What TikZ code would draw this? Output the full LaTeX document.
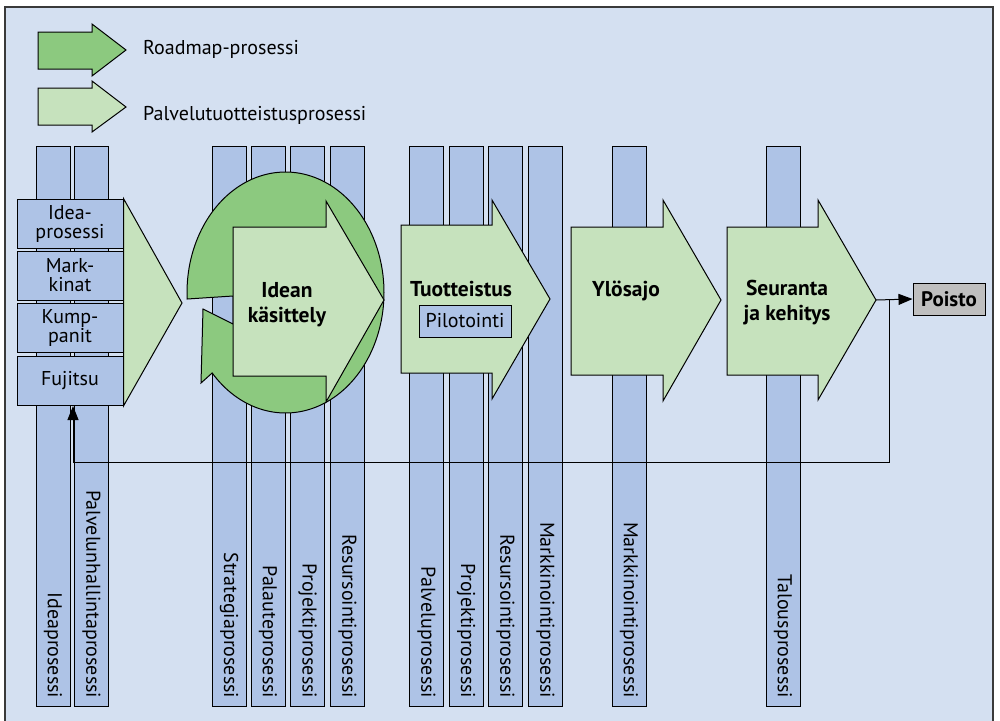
\documentclass[tikz,border=0pt]{standalone}
\usepackage{fontspec}
\setmainfont{PT Sans}
\usetikzlibrary{arrows.meta}
\definecolor{panel}{HTML}{D4E0F1}
\definecolor{barblue}{HTML}{AEC3E6}
\definecolor{lightgreen}{HTML}{C6E2BD}
\definecolor{darkgreen}{HTML}{8CC97F}
\definecolor{poistogray}{HTML}{BFBFBF}
\definecolor{framegray}{HTML}{3A3A3A}
\begin{document}
\begin{tikzpicture}[x=1pt,y=-1pt,line join=miter,
  outline/.style={draw=black,line width=1pt},
  lane/.style={outline,fill=barblue,minimum width=34pt,minimum height=560pt,inner sep=0pt},
  lanelabel/.style={rotate=-90,anchor=east,inner sep=0pt,font=\fontsize{20}{22}\selectfont},
  srcbox/.style={outline,fill=barblue,minimum width=106pt,minimum height=49pt,inner sep=0pt,align=center,font=\fontsize{20}{19}\selectfont},
  steptext/.style={align=center,inner sep=0pt,anchor=base,font=\fontsize{21.5}{25}\selectfont\bfseries},
  legendtext/.style={inner sep=0pt,font=\fontsize{20}{22}\selectfont},
  tip/.style={-{Triangle[length=14pt,width=11pt]}}]
\useasboundingbox (0,0) rectangle (1000,720);
\clip (0,0) rectangle (1000,720);
% panel
\draw[draw=framegray,line width=2pt,fill=panel] (5,7) rectangle (993,740);
% legend
\draw[outline,fill=darkgreen] (38,32) -- (92,32) -- (92,24) -- (126,50) -- (92,76) -- (92,69) -- (38,69) -- cycle;
\node[legendtext,anchor=base west] (roadmap) at (143,54) {Roadmap-prosessi};
\draw[outline,fill=lightgreen] (38,88) -- (92,88) -- (92,81) -- (126,107) -- (92,132) -- (92,125) -- (38,125) -- cycle;
\node[legendtext,anchor=base west] (palvelu) at (143,120) {Palvelutuotteistusprosessi};
% process lanes
\foreach \n/\x/\t in {1/53/Ideaprosessi,2/91.5/Palvelunhallintaprosessi,
  3/229/Strategiaprosessi,4/268/Palauteprosessi,5/307.5/Projektiprosessi,6/347.5/Resursointiprosessi,
  7/426.5/Palveluprosessi,8/466/Projektiprosessi,9/505.5/Resursointiprosessi,10/545.5/Markkinointiprosessi,
  11/629/Markkinointiprosessi,12/783/Talousprosessi}{
  \node[lane] (lane\n) at (\x,426) {};
  \node[lanelabel] (lanetext\n) at ([yshift=8pt]lane\n.south) {\t};
}
% feedback loop points
\coordinate (split) at (889,300);
\coordinate (loopcorner) at (73,462);
% idea sources
\node[srcbox] (idea) at (70,223.5) {Idea-\\prosessi};
\node[srcbox] (markkinat) at (70,275.5) {Mark-\\kinat};
\node[srcbox] (kumppanit) at (70,328) {Kump-\\panit};
\node[srcbox] (fujitsu) at (70,381) {Fujitsu};
\draw[outline,fill=lightgreen] (idea.north east) -- (182,303) -- (fujitsu.south east) -- cycle;
% roadmap cycle around the first step
\draw[outline,fill=darkgreen] plot[domain=176.9:498.1,samples=150] ({285.5+98.5*cos(\x)},{292.5+120.5*sin(\x)})
  -- (201,383) -- (203,309) -- (233,324) -- (233,296) -- cycle;
% process steps
\draw[outline,fill=lightgreen] (233,227) -- (326,227) -- (326,201) -- (384,300) -- (326,402) -- (326,376) -- (233,376) -- cycle;
\node[steptext] (idean) at (287,322) {Idean\\käsittely};
\draw[outline,fill=lightgreen] (401,225) -- (492,225) -- (492,200) -- (550,299) -- (492,399) -- (492,373) -- (401,373) -- cycle;
\node[steptext] (tuotteistus) at (461,296) {Tuotteistus};
\node[outline,fill=barblue,minimum width=92pt,minimum height=32pt,inner sep=0pt,font=\fontsize{20}{22}\selectfont] (pilotointi) at (465,321) {Pilotointi};
\draw[outline,fill=lightgreen] (571,227) -- (663,227) -- (663,200) -- (721,300) -- (663,401) -- (663,375) -- (571,375) -- cycle;
\node[steptext] (ylosajo) at (626,296) {Ylösajo};
\draw[outline,fill=lightgreen] (727,227) -- (818,227) -- (818,200) -- (876,300) -- (818,400) -- (818,375) -- (727,375) -- cycle;
\coordinate (seurtip) at (876,300);
\node[steptext] (seuranta) at (787,320) {Seuranta\\ja kehitys};
\node[outline,fill=poistogray,minimum width=72pt,minimum height=32pt,inner sep=0pt,font=\fontsize{21}{22}\selectfont\bfseries] (poisto) at (949,299) {Poisto};
\draw[outline,tip] (seurtip) -- (poisto.west);
\draw[outline,tip] (split) |- (loopcorner) -- (loopcorner |- fujitsu.south);
\end{tikzpicture}
\end{document}
